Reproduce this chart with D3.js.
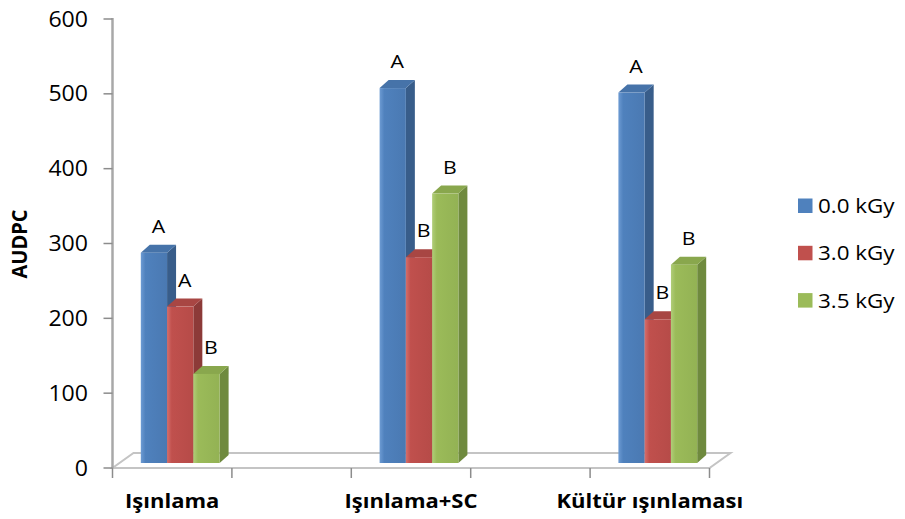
<!DOCTYPE html>
<html>
<head>
<meta charset="utf-8">
<script src="https://cdn.jsdelivr.net/npm/d3@7/dist/d3.min.js"></script>
<style>
  html, body { margin: 0; padding: 0; background: #fff; }
  svg { display: block; }
  text { font-family: "Open Sans", "Noto Sans", sans-serif; fill: #000; }
</style>
</head>
<body>
<svg id="chart" width="905" height="519"></svg>
<script>
// Category slots along the floor (two blank spacer slots between treatments)
const categories = ["Işınlama", "", "Işınlama+SC", "", "Kültür ışınlaması"];
const seriesNames = ["0.0 kGy", "3.0 kGy", "3.5 kGy"];

// AUDPC per dose
const values00 = [281, null, 501, null, 495];
const values30 = [209, null, 275, null, 192];
const values35 = [119, null, 360, null, 265];

// Significance letters per dose
const letters00 = ["A", null, "A", null, "A"];
const letters30 = ["A", null, "B", null, "B"];
const letters35 = ["B", null, "B", null, "B"];

const yTicks = [0, 100, 200, 300, 400, 500, 600];

const seriesValues = [values00, values30, values35];
const seriesLetters = [letters00, letters30, letters35];

// Face colours: front (light edge, base, shade), side, top
const palette = [
  { light: "#6d9bd3", base: "#4f81bd", shade: "#4a79b2", side: "#385d8a", top: "#4673a9" },
  { light: "#d56e6b", base: "#c0504d", shade: "#b64b48", side: "#8c3a38", top: "#a84643" },
  { light: "#b0cd78", base: "#9bbb59", shade: "#93b254", side: "#6f8a3e", top: "#89a74d" }
];

const svg = d3.select("#chart");
const defs = svg.append("defs");

palette.forEach((c, i) => {
  const g = defs.append("linearGradient").attr("id", "front" + i)
    .attr("x1", "0%").attr("x2", "100%").attr("y1", "0%").attr("y2", "0%");
  g.append("stop").attr("offset", "0%").attr("stop-color", c.light);
  g.append("stop").attr("offset", "18%").attr("stop-color", c.base);
  g.append("stop").attr("offset", "100%").attr("stop-color", c.shade);
});

// Plot geometry
const floorFront = 468;
const floorDepth = { dx: 21, dy: -15 };
const barFront = { dx: 8, dy: -5 };     // where the bar front sits inside the floor depth
const barDepth = { dx: 9, dy: -8 };     // bar thickness toward the back

const y = d3.scaleLinear().domain([0, 600]).range([floorFront, 19]);
const x = d3.scaleBand().domain(d3.range(categories.length)).range([112.5, 709.5]).padding(0);
const groupFrac = 0.66;
const inner = d3.scaleBand().domain(d3.range(seriesNames.length))
  .range([0, x.bandwidth() * groupFrac]).padding(0);

// Stretched text helper
function label(parent, px, py, str, opt) {
  const g = parent.append("g")
    .attr("transform", `translate(${px},${py}) scale(${opt.sx || 1},1)`);
  g.append("text")
    .attr("text-anchor", opt.anchor || "start")
    .attr("dominant-baseline", opt.baseline || "auto")
    .style("font-size", opt.size + "px")
    .style("font-weight", opt.weight || "normal")
    .text(str);
  return g;
}

// Floor
const x0 = x.range()[0], x1 = x.range()[1];
const floor = svg.append("g");
floor.append("path")
  .attr("d", `M${x0},${floorFront} L${x1},${floorFront} L${x1 + floorDepth.dx},${floorFront + floorDepth.dy} L${x0 + floorDepth.dx},${floorFront + floorDepth.dy} Z`)
  .attr("fill", "none").attr("stroke", "#c4c4c4").attr("stroke-width", 2);

// Category tick marks along the front floor edge
const bounds = d3.range(categories.length + 1).map(i => i < categories.length ? x(i) : x1);
floor.selectAll("line.xt").data(bounds).join("line")
  .attr("x1", d => d).attr("x2", d => d)
  .attr("y1", floorFront).attr("y2", floorFront + 10)
  .attr("stroke", "#8c8c8c").attr("stroke-width", 1.5);

// Value axis
const axis = svg.append("g");
axis.append("line")
  .attr("x1", x0).attr("x2", x0).attr("y1", y(600) - 1).attr("y2", floorFront)
  .attr("stroke", "#a8a8a8").attr("stroke-width", 2.5);
axis.selectAll("line.yt").data(yTicks).join("line")
  .attr("x1", x0 - 9).attr("x2", x0)
  .attr("y1", d => y(d)).attr("y2", d => y(d))
  .attr("stroke", "#8c8c8c").attr("stroke-width", 1.5);
yTicks.forEach(t => {
  label(axis, 88, y(t) + 2, String(t), { size: 21, anchor: "end", baseline: "middle", sx: 1.1 });
});

// Axis title
svg.append("g")
  .attr("transform", `translate(21,244) rotate(-90) scale(1,1.1)`)
  .append("text")
  .attr("text-anchor", "middle").attr("dominant-baseline", "middle")
  .style("font-size", "20px").style("font-weight", "bold")
  .text("AUDPC");

// Category labels
categories.forEach((c, i) => {
  if (!c) return;
  label(svg, x(i) + x.bandwidth() / 2, 508, c, { size: 20, weight: "bold", anchor: "middle", sx: 1.1 });
});

// Bars, drawn left to right so each bar hides the side of its neighbour
const bars = svg.append("g");
const groupOffset = (x.bandwidth() - x.bandwidth() * groupFrac) / 2;
const w = inner.bandwidth();
categories.forEach((c, ci) => {
  seriesValues.forEach((vals, si) => {
    const v = vals[ci];
    if (v == null) return;
    const fx = x(ci) + groupOffset + inner(si) + barFront.dx;
    const fb = floorFront + barFront.dy;
    const ft = y(v) + barFront.dy;
    const col = palette[si];
    const g = bars.append("g");
    // side
    g.append("path")
      .attr("d", `M${fx + w},${fb} L${fx + w + barDepth.dx},${fb + barDepth.dy} L${fx + w + barDepth.dx},${ft + barDepth.dy} L${fx + w},${ft} Z`)
      .attr("fill", col.side);
    // top
    g.append("path")
      .attr("d", `M${fx},${ft} L${fx + w},${ft} L${fx + w + barDepth.dx},${ft + barDepth.dy} L${fx + barDepth.dx},${ft + barDepth.dy} Z`)
      .attr("fill", col.top);
    // front
    g.append("rect")
      .attr("x", fx).attr("y", ft).attr("width", w).attr("height", fb - ft)
      .attr("fill", `url(#front${si})`);
  });
});

// Significance letters
const letters = svg.append("g");
categories.forEach((c, ci) => {
  seriesValues.forEach((vals, si) => {
    const v = vals[ci];
    const t = seriesLetters[si][ci];
    if (v == null || !t) return;
    const cx = x(ci) + groupOffset + inner(si) + barFront.dx + w / 2 + barDepth.dx / 2;
    const by = y(v) + barFront.dy - 20;
    label(letters, cx, by, t, { size: 19, anchor: "middle", sx: 1.12 });
  });
});

// Legend
const legend = svg.append("g");
seriesNames.forEach((s, i) => {
  const cy = 205.5 + i * 47.3;
  legend.append("rect")
    .attr("x", 798).attr("y", cy - 7).attr("width", 14.5).attr("height", 14.5)
    .attr("fill", palette[i].base);
  label(legend, 818, cy + 7.5, s, { size: 20, anchor: "start", sx: 1.12 });
});
</script>
</body>
</html>
